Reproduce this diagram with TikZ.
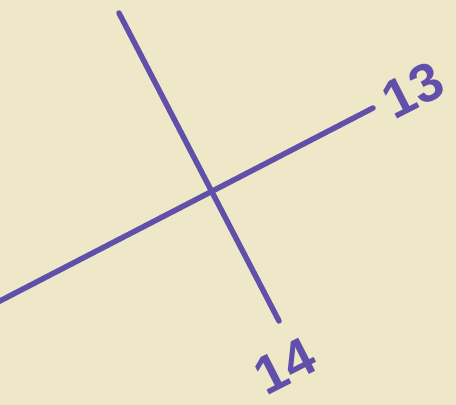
\documentclass[tikz,border=0pt]{standalone}
\usepackage{fontspec}
\setmainfont{Liberation Sans}
\usetikzlibrary{positioning}
\definecolor{paper}{HTML}{EFE8C8}
\definecolor{ink}{HTML}{6150AA}
\tikzset{
  pen/.style={draw=ink,line width=5.5pt,line cap=round},
  num/.style={text=ink,font=\fontsize{54}{54}\selectfont\bfseries,inner sep=0pt,rotate=27},
}
\begin{document}
\begin{tikzpicture}[x=1pt,y=-1pt]
  \fill[paper] (0,0) rectangle (456,405);
  \useasboundingbox (0,0) rectangle (456,405);
  % the two crossing lines
  \coordinate (top) at (119,13);
  \coordinate (bot) at (279,321);
  \coordinate (left) at (-4,303);
  \coordinate (right) at (373,108);
  \draw[pen] (top) -- (bot);
  \draw[pen] (left) -- (right);
  % labels
  \node[num] (n13) at (413,90) {13};
  \node[num] (n14) at (285,366) {14};
\end{tikzpicture}
\end{document}
